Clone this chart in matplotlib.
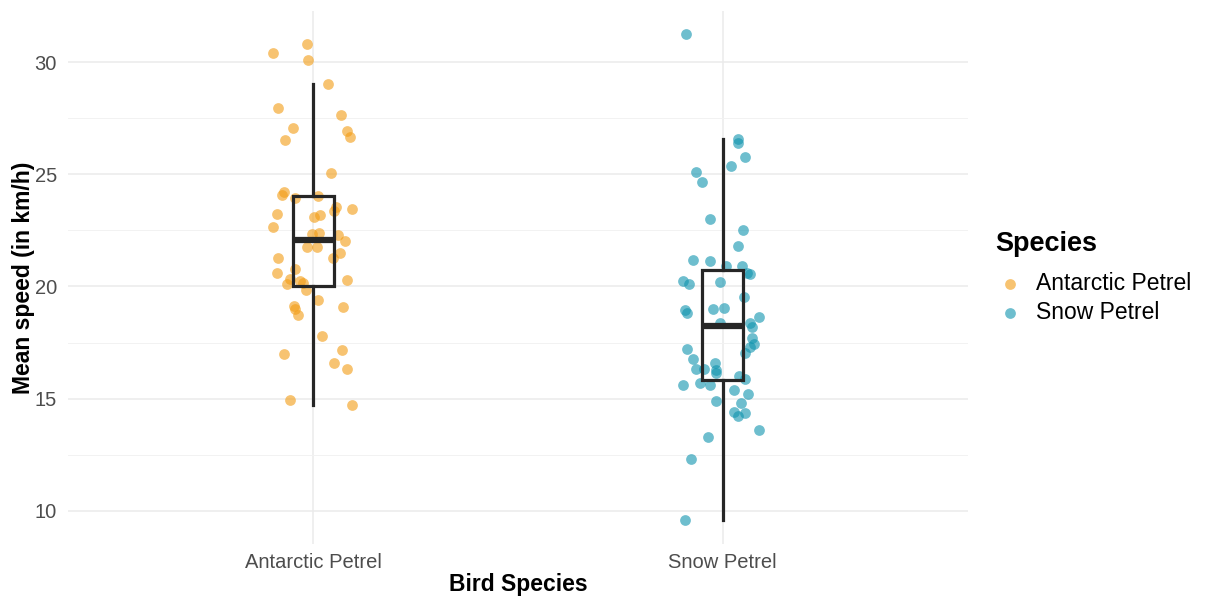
import matplotlib.pyplot as plt

plt.rcParams['font.family'] = ['Liberation Sans', 'DejaVu Sans']

species = ["Antarctic Petrel", "Snow Petrel"]
colors = ["#F39C12", "#0E93AE"]

# mean speeds (km/h) and the horizontal jitter seen in the picture
antarctic_speed = [30.41, 30.80, 30.10, 29.03, 27.95, 27.65, 27.06, 26.51, 26.91, 26.66,
                   25.04, 24.22, 24.08, 23.93, 24.03, 23.54, 23.36, 23.45, 23.22, 23.18,
                   23.08, 22.64, 22.32, 22.40, 22.28, 22.04, 21.76, 21.77, 21.49, 21.26,
                   21.26, 20.62, 20.79, 20.33, 20.11, 20.26, 20.14, 19.86, 20.30, 19.40,
                   19.15, 19.00, 18.72, 19.09, 17.78, 16.99, 17.19, 16.59, 16.31, 14.94,
                   14.73]
antarctic_jitter = [-0.100, -0.016, -0.014, 0.035, -0.086, 0.068, -0.050, -0.069, 0.081, 0.090,
                    0.042, -0.071, -0.077, -0.046, 0.012, 0.056, 0.050, 0.095, -0.089, 0.015,
                    0.001, -0.100, -0.004, 0.014, 0.061, 0.078, -0.015, 0.008, 0.065, 0.048,
                    -0.086, -0.089, -0.046, -0.057, -0.064, -0.033, -0.026, -0.019, 0.082, 0.011,
                    -0.048, -0.044, -0.037, 0.073, 0.021, -0.071, 0.070, 0.049, 0.081, -0.058,
                    0.095]

snow_speed = [31.23, 26.58, 26.41, 25.78, 25.37, 25.11, 24.64, 22.99, 22.52, 21.82,
              21.18, 21.15, 20.91, 20.93, 20.61, 20.54, 20.26, 20.10, 20.20, 19.53,
              18.94, 18.83, 19.00, 19.06, 18.65, 18.39, 18.21, 18.36, 17.72, 17.44,
              17.31, 17.04, 17.20, 16.76, 16.34, 16.31, 16.61, 16.28, 16.13, 15.72,
              15.60, 16.01, 15.89, 15.61, 15.39, 15.22, 14.90, 14.82, 14.41, 14.24,
              14.35, 13.61, 13.30, 12.33, 9.60]
snow_jitter = [-0.090, 0.037, 0.037, 0.055, 0.021, -0.066, -0.050, -0.031, 0.051, 0.037,
               -0.073, -0.031, 0.008, 0.047, 0.060, 0.067, -0.096, -0.082, -0.007, 0.052,
               -0.093, -0.086, -0.023, 0.003, 0.090, 0.066, 0.073, -0.007, 0.073, 0.077,
               0.066, 0.055, -0.087, -0.073, -0.064, -0.046, -0.018, -0.016, -0.015, -0.056,
               -0.030, 0.041, 0.054, -0.096, 0.029, 0.062, -0.017, 0.046, 0.027, 0.037,
               0.055, 0.090, -0.035, -0.077, -0.093]

# box statistics as drawn in the reference
box_q1 = [20.0, 15.84]
box_med = [22.05, 18.24]
box_q3 = [24.05, 20.73]
whisk_lo = [14.73, 9.60]
whisk_hi = [29.03, 26.56]

speeds = [antarctic_speed, snow_speed]
jitters = [antarctic_jitter, snow_jitter]

fig = plt.figure(figsize=(12.06, 6.01), dpi=100)
ax = fig.add_axes([0.0564, 0.0945, 0.7463, 0.8875])

for i in range(2):
    xs = [i + 1 + j for j in jitters[i]]
    ax.scatter(xs, speeds[i], s=60, color=colors[i], alpha=0.6, linewidths=0,
               label=species[i], zorder=2)

stats = []
for i in range(2):
    stats.append({"q1": box_q1[i], "med": box_med[i], "q3": box_q3[i],
                  "whislo": whisk_lo[i], "whishi": whisk_hi[i], "fliers": []})
ax.bxp(stats, positions=[1, 2], widths=0.1, showcaps=False, showfliers=False,
       patch_artist=True,
       boxprops=dict(facecolor="none", edgecolor="#262626", linewidth=2.3),
       whiskerprops=dict(color="#262626", linewidth=2.3),
       medianprops=dict(color="#262626", linewidth=4.5, solid_capstyle="butt"),
       zorder=3)

ax.set_xlim(0.4, 2.6)
ax.set_ylim(8.52, 32.28)
ax.set_xticks([1, 2])
ax.set_xticklabels(species)
ax.set_yticks([10, 15, 20, 25, 30])
ax.set_yticks([12.5, 17.5, 22.5, 27.5], minor=True)

for s in ax.spines.values():
    s.set_visible(False)
ax.tick_params(axis="both", which="both", length=0, labelsize=14.5, colors="#4D4D4D")
ax.tick_params(axis="x", pad=6)
ax.tick_params(axis="y", pad=8)
ax.grid(True, which="major", color="#EBEBEB", linewidth=1.1)
ax.grid(True, which="minor", axis="y", color="#F2F2F2", linewidth=0.7)
ax.set_axisbelow(True)

ax.set_xlabel("Bird Species", fontsize=16.5, fontweight="bold")
ax.set_ylabel("Mean speed (in km/h)", fontsize=16.5, fontweight="bold")
ax.xaxis.set_label_coords(0.5, -0.054)
ax.yaxis.set_label_coords(-0.037, 0.5)

fig.text(995 / 1206, 1 - 244 / 601, "Species", fontsize=19.5, fontweight="bold",
         ha="left", va="center")
leg = fig.legend(loc="center left", bbox_to_anchor=(995 / 1206, 1 - 298 / 601),
                 frameon=False, fontsize=16.5, handlelength=1.3, handletextpad=0.5,
                 labelspacing=0.25, borderpad=0, borderaxespad=0)

fig.savefig("out.png", dpi=100, facecolor="white")
